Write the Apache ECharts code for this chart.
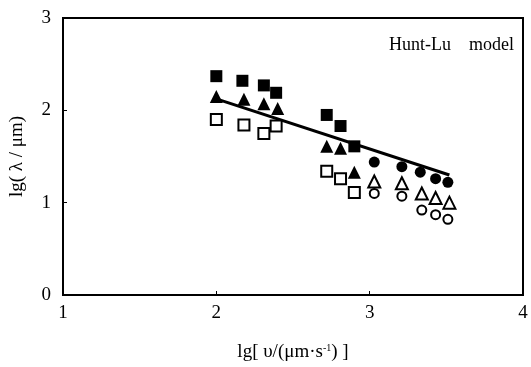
<!DOCTYPE html>
<html>
<head>
<meta charset="utf-8">
<script src="https://cdn.jsdelivr.net/npm/echarts@6/dist/echarts.min.js"></script>
<style>
  html, body { margin: 0; padding: 0; background: #fff; }
  #chart { width: 531px; height: 367px; }
</style>
</head>
<body>
<div id="chart"></div>
<script>
// points, [lg v, lg lambda]
const filledSquares = [[2.00, 2.37], [2.17, 2.32], [2.31, 2.27], [2.39, 2.19], [2.72, 1.95], [2.81, 1.83], [2.90, 1.61]];
const filledTriangles = [[2.00, 2.15], [2.18, 2.12], [2.31, 2.07], [2.40, 2.02], [2.72, 1.61], [2.81, 1.59], [2.90, 1.33]];
const openSquares = [[2.00, 1.90], [2.18, 1.84], [2.31, 1.75], [2.39, 1.83], [2.72, 1.34], [2.81, 1.26], [2.90, 1.11]];
const filledCircles = [[3.03, 1.44], [3.21, 1.39], [3.33, 1.33], [3.43, 1.26], [3.51, 1.22]];
const openTriangles = [[3.03, 1.23], [3.21, 1.21], [3.34, 1.10], [3.43, 1.05], [3.52, 1.00]];
const openCircles = [[3.03, 1.10], [3.21, 1.07], [3.34, 0.92], [3.43, 0.87], [3.51, 0.82]];
// Hunt-Lu model fit line
const modelLine = [[1.99, 2.13], [3.52, 1.30]];

const serif = "'Liberation Serif', 'DejaVu Serif', serif";

function filled(symbol, size, data) {
  return {
    type: "scatter", symbol, symbolSize: size, data,
    itemStyle: { color: "#000", opacity: 1 }, z: 3,
  };
}

function hollow(symbol, size, data) {
  return {
    type: "scatter", symbol, symbolSize: size, data,
    itemStyle: { color: "#fff", borderColor: "#000", borderWidth: 2, opacity: 1 }, z: 3,
  };
}

const chart = echarts.init(document.getElementById("chart"));
chart.setOption({
  animation: false,
  title: {
    text: "Hunt-Lu    model",
    left: 384, top: 31,
    textStyle: { fontFamily: serif, fontSize: 18, fontWeight: "normal", color: "#000" },
  },
  grid: {
    left: 62, right: 8, top: 18, bottom: 72,
    show: true, borderColor: "#000", borderWidth: 2, backgroundColor: "transparent",
  },
  xAxis: {
    type: "value", min: 1, max: 4, interval: 1,
    name: "lg[ υ/(μm·s{sup|-1}) ]",
    nameLocation: "middle", nameGap: 48,
    nameTextStyle: {
      fontFamily: serif, fontSize: 19, color: "#000",
      rich: { sup: { fontFamily: serif, fontSize: 10, verticalAlign: "top", padding: [0, 0, 8, 0] } },
    },
    axisLine: { lineStyle: { color: "#000", width: 2 } },
    axisTick: { inside: true, length: 4, lineStyle: { color: "#000" } },
    axisLabel: { fontFamily: serif, fontSize: 19, color: "#000", margin: 9 },
    splitLine: { show: false },
  },
  yAxis: {
    type: "value", min: 0, max: 3, interval: 1,
    name: "lg( λ / μm)",
    nameLocation: "middle", nameGap: 36, nameRotate: 90,
    nameTextStyle: { fontFamily: serif, fontSize: 19, color: "#000" },
    axisLine: { lineStyle: { color: "#000", width: 2 } },
    axisTick: { inside: true, length: 4, lineStyle: { color: "#000" } },
    axisLabel: { fontFamily: serif, fontSize: 19, color: "#000", margin: 12 },
    splitLine: { show: false },
  },
  series: [
    {
      type: "line", data: modelLine, symbol: "none",
      lineStyle: { color: "#000", width: 3 }, z: 2,
    },
    filled("rect", 12, filledSquares),
    filled("triangle", 13, filledTriangles),
    hollow("rect", 11, openSquares),
    filled("circle", 11, filledCircles),
    hollow("triangle", 12, openTriangles),
    hollow("circle", 9, openCircles),
  ],
});
</script>
</body>
</html>
